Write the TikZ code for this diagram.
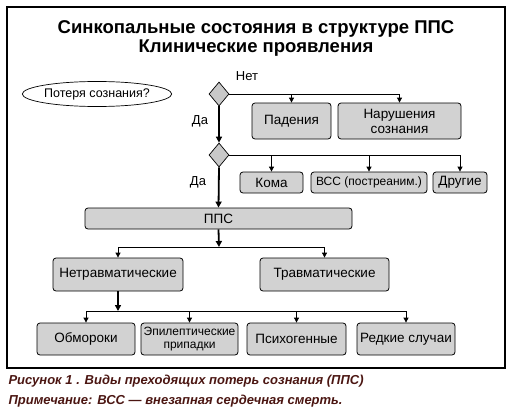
\documentclass[tikz,border=0pt]{standalone}
\usepackage{fontspec}
\setmainfont{Liberation Sans}
\usetikzlibrary{arrows.meta,shapes.geometric}
\definecolor{boxgray}{RGB}{210,210,210}
\definecolor{diagray}{RGB}{200,200,200}
\definecolor{capred}{RGB}{75,22,18}
\tikzset{
  box/.style={draw,fill=boxgray,rounded corners=3pt,line width=0.8pt,align=center,inner sep=0pt,font=\fontsize{13.5}{15}\selectfont},
  smallbox/.style={box,font=\fontsize{12}{13}\selectfont},
  choice/.style={draw,diamond,fill=diagray,line width=0.7pt,inner sep=0pt,minimum width=20pt,minimum height=24pt},
  arr/.style={line width=0.8pt,-{Triangle[length=5pt,width=5pt]}},
  mainarr/.style={line width=1.8pt,-{Triangle[length=6pt,width=6pt]}}
}
\begin{document}
\begin{tikzpicture}[x=1pt,y=-1pt]
\useasboundingbox (0,0) rectangle (513,412);
% the frame and the title
\draw[line width=1.2pt] (7,7) rectangle (505,368);
\node[font=\fontsize{18.5}{20}\selectfont\bfseries] (title1) at (256,29) {Синкопальные состояния в структуре ППС};
\node[font=\fontsize{18.5}{20}\selectfont\bfseries] (title2) at (256,48) {Клинические проявления};
% the question and the two choices
\node[draw,ellipse,fill=white,line width=0.7pt,inner sep=0pt,minimum width=127pt,minimum height=25pt,font=\fontsize{12.5}{14}\selectfont] (loss) at (97,94) {Потеря сознания?};
\node[choice] (d1) at (219,94) {};
\node[choice] (d2) at (219,155) {};
\node[font=\fontsize{13}{15}\selectfont] (no) at (247,76) {Нет};
\node[font=\fontsize{13}{15}\selectfont] (yes1) at (200,121) {Да};
\node[font=\fontsize{13}{15}\selectfont] (yes2) at (198,182) {Да};
% the boxes of the first row
\node[box,minimum width=79pt,minimum height=36pt] (fall) at (291.5,121) {Падения};
\node[box,minimum width=123pt,minimum height=36pt] (dist) at (399.5,121) {Нарушения\\сознания};
% the boxes of the second row
\node[box,minimum width=63pt,minimum height=21pt] (coma) at (271.5,182.5) {Кома};
\node[smallbox,minimum width=116pt,minimum height=21pt] (scd) at (369,182.5) {ВСС (постреаним.)};
\node[box,minimum width=54pt,minimum height=21pt] (other) at (460,182.5) {Другие};
% PPS and its kinds
\node[box,minimum width=267pt,minimum height=21pt] (pps) at (218.5,218.5) {ППС};
\node[box,minimum width=130pt,minimum height=33pt] (nt) at (118,274.5) {Нетравматические};
\node[box,minimum width=129pt,minimum height=33pt] (tr) at (324.5,274.5) {Травматические};
\node[box,minimum width=98pt,minimum height=32pt] (faint) at (86,339) {Обмороки};
\node[smallbox,minimum width=97pt,minimum height=32pt] (epi) at (189.5,339) {Эпилептические\\припадки};
\node[box,minimum width=99pt,minimum height=32pt] (psy) at (296.5,339) {Психогенные};
\node[box,minimum width=98pt,minimum height=32pt] (rare) at (406,339) {Редкие случаи};
% the junctions
\coordinate (j1) at (219,247);
\coordinate (j2) at (118,311);
% the connectors
\draw[line width=0.8pt] (d1.east) -- (d1.east -| dist.north);
\foreach \b in {fall,dist}
  \draw[arr] (d1.east -| \b.north) -- (\b.north);
\draw[line width=0.8pt] (d2.east) -- (d2.east -| other.north);
\foreach \b in {coma,scd,other}
  \draw[arr] (d2.east -| \b.north) -- (\b.north);
\draw[mainarr] (d1.south) -- (d2.north);
\draw[mainarr] (d2.south) -- (pps.north);
\draw[mainarr] (pps.south) -- (j1);
\draw[arr] (j1) -| (nt.north);
\draw[arr] (j1) -| (tr.north);
\draw[mainarr] (nt.south) -- (j2);
\draw[line width=0.8pt] (j2 -| faint.north) -- (j2 -| rare.north);
\foreach \b in {faint,epi,psy,rare}
  \draw[arr] (j2 -| \b.north) -- (\b.north);
% the caption
\node[anchor=west,text=capred,font=\fontsize{13}{15}\selectfont\bfseries\itshape] (cap1) at (5,381) {Рисунок 1 . Виды преходящих потерь сознания (ППС)};
\node[anchor=west,text=capred,font=\fontsize{13}{15}\selectfont\bfseries\itshape] (cap2) at (5,401) {Примечание: ВСС — внезапная сердечная смерть.};
\end{tikzpicture}
\end{document}
